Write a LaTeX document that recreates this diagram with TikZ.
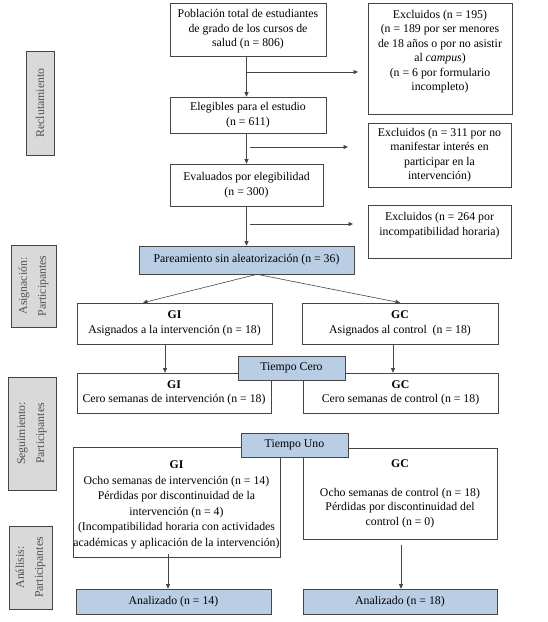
\documentclass[tikz,border=0pt]{standalone}
\usepackage{fontspec}
\setmainfont{Liberation Serif}
\usetikzlibrary{arrows.meta}
\definecolor{bc}{RGB}{70,70,70}
\definecolor{bl}{RGB}{185,205,228}
\definecolor{sg}{RGB}{217,217,217}
\definecolor{sidetxt}{RGB}{80,80,80}
\newcommand{\mainsz}{\fontsize{11.8}{14.5}\selectfont}
\newcommand{\widesz}{\fontsize{11.8}{15.5}\selectfont}
\newcommand{\sidesz}{\fontsize{11.8}{19}\selectfont}
\tikzset{
  box/.style={draw=bc, line width=0.6pt, fill=white, inner sep=0pt, align=center, font=\mainsz},
  bluebox/.style={box, fill=bl},
  txt/.style={inner sep=0pt, align=center, font=\mainsz},
  sidebox/.style={draw=bc, line width=0.6pt, fill=sg, inner sep=0pt, align=center, rotate=90, text=sidetxt, font=\sidesz},
  arr/.style={-{Triangle[length=4.5pt,width=4pt]}, line width=0.6pt, draw=bc},
  sz/.style 2 args={minimum width=#1pt, minimum height=#2pt},
}
\begin{document}
\begin{tikzpicture}[x=1pt,y=-1pt]
\useasboundingbox (0,0) rectangle (548,622);
% side labels
\node[sidebox, sz={104}{28}] (s1) at (40,103) {Reclutamiento};
\node[sidebox, sz={82}{45}] (s2) at (33.5,286) {Asignación:\\Participantes};
\node[sidebox, sz={113}{48}] (s3) at (32,433.5) {Seguimiento:\\Participantes};
\node[sidebox, sz={83}{43}] (s4) at (30.5,567.5) {Análisis:\\Participantes};
% recruitment
\node[box, sz={156}{53}] (pob) at (248,29.5) {Población total de estudiantes\\de grado de los cursos de\\salud (n = 806)};
\node[box, sz={144}{111}] (ex1) at (440,58.5) {};
\node[txt] (ex1t) at (440,51.5) {Excluidos (n = 195)\\(n = 189 por ser menores\\de 18 años o por no asistir\\al \textit{campus})\\(n = 6 por formulario\\incompleto)};
\node[box, sz={156}{36}] (ele) at (248,115) {Elegibles para el estudio\\(n = 611)};
\node[box, sz={143}{64}] (ex2) at (439.5,155) {Excluidos (n = 311 por no\\manifestar interés en\\participar en la\\intervención)};
\node[box, sz={153}{42}] (eva) at (246.5,185) {Evaluados por elegibilidad\\(n = 300)};
\node[box, sz={143}{53}] (ex3) at (439.5,231.5) {};
\node[txt] (ex3t) at (439.5,225) {Excluidos (n = 264 por\\incompatibilidad horaria)};
\node[bluebox, sz={215}{28}] (par) at (246.5,260) {Pareamiento sin aleatorización (n = 36)};
% allocation
\node[box, sz={195}{41}] (gi1) at (174.5,323.5) {\textbf{GI}\\Asignados a la intervención (n = 18)};
\node[box, sz={196}{41}] (gc1) at (400,323.5) {\textbf{GC}\\Asignados al control\ \ (n = 18)};
\node[box, sz={194}{40}] (gi2) at (174,393) {\textbf{GI}\\Cero semanas de intervención (n = 18)};
\node[box, sz={195}{40}] (gc2) at (400.5,393) {\textbf{GC}\\Cero semanas de control (n = 18)};
\node[bluebox, sz={107}{24}] (tc) at (291.5,368) {Tiempo Cero};
% follow-up
\node[box, sz={207}{110}] (gi3) at (176.5,502) {};
\node[txt, font=\widesz] (gi3t) at (176.5,505) {\textbf{GI}\\Ocho semanas de intervención (n = 14)\\Pérdidas por discontinuidad de la\\intervención (n = 4)\\(Incompatibilidad horaria con actividades\\académicas y aplicación de la intervención)};
\node[box, sz={194}{91}] (gc3) at (400,493.5) {\textbf{GC}\\[14.5pt]Ocho semanas de control (n = 18)\\Pérdidas por discontinuidad del\\control (n = 0)};
\node[bluebox, sz={107}{24}] (tu) at (294.5,445) {Tiempo Uno};
% analysis
\node[bluebox, sz={195}{25}] (an1) at (173.5,601.5) {Analizado (n = 14)};
\node[bluebox, sz={194}{25}] (an2) at (400,601.5) {Analizado (n = 18)};
% connectors
\draw[arr] ([xshift=-1.5pt]pob.south) -- ([xshift=-1.5pt]ele.north);
\draw[arr] ([xshift=-1.5pt]ele.south) -- (eva.north);
\draw[arr] (eva.south) -- (par.north);
\coordinate (b1s) at (246.5,72);
\coordinate (b1e) at (358,72);
\coordinate (b2s) at (250,147);
\coordinate (b2e) at (348,147);
\coordinate (b3s) at (250,224);
\coordinate (b3e) at (353,224);
\draw[arr] (b1s) -- (b1e);
\draw[arr] (b2s) -- (b2e);
\draw[arr] (b3s) -- (b3e);
\draw[arr] ([xshift=10.5pt]par.south) -- ([xshift=-31.5pt]gi1.north);
\draw[arr] ([xshift=10.5pt]par.south) -- (gc1.north);
\draw[arr] ([xshift=-9.5pt]gi1.south) -- ([xshift=-9pt]gi2.north);
\draw[arr] ([xshift=-7pt]gc1.south) -- ([xshift=-7.5pt]gc2.north);
\draw[arr] ([xshift=-8.5pt,yshift=3pt]gi3.south) -- ([xshift=-5.5pt]an1.north);
\draw[arr] ([xshift=1pt,yshift=-6pt]gc3.south) -- ([xshift=1pt]an2.north);
\end{tikzpicture}
\end{document}
